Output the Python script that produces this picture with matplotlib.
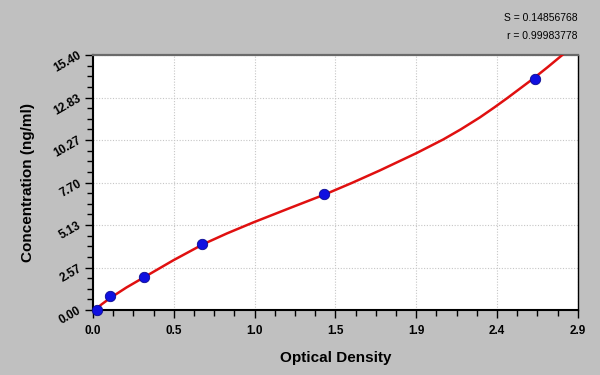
import numpy as np
import matplotlib
matplotlib.use("Agg")
import matplotlib.pyplot as plt
from matplotlib.ticker import AutoMinorLocator

plt.rcParams['font.family'] = ['Liberation Sans', 'DejaVu Sans']

# standards (optical density vs concentration)
od = [0.022, 0.102, 0.307, 0.654, 1.383, 2.643]
conc = [0.0, 0.85, 1.97, 3.99, 6.98, 13.95]

# fitted curve
curve_od = [0.012, 0.05, 0.102, 0.2, 0.311, 0.48, 0.66, 0.80, 0.959, 1.178,
            1.387, 1.55, 1.716, 1.936, 2.095, 2.20, 2.314, 2.40, 2.477,
            2.633, 2.72, 2.812]
curve_conc = [0.0, 0.33, 0.72, 1.36, 2.01, 3.0, 3.98, 4.62, 5.29, 6.16,
              6.98, 7.68, 8.43, 9.48, 10.30, 10.91, 11.63, 12.23, 12.79,
              13.97, 14.67, 15.44]

xtick_labels = ['0.0', '0.5', '1.0', '1.5', '1.9', '2.4', '2.9']
ytick_labels = ['0.00', '2.57', '5.13', '7.70', '10.27', '12.83', '15.40']
x_max = 2.9
y_max = 15.4

bg = '#c0c0c0'
fig = plt.figure(figsize=(6, 3.75), dpi=100)
fig.patch.set_facecolor(bg)
ax = fig.add_axes([0.155, 0.1733, 0.808, 0.68])
ax.set_facecolor('white')

ax.plot(curve_od, curve_conc, color='#e01010', lw=1.8, zorder=3,
        solid_joinstyle='round')
ax.plot(od, conc, 'o', ms=7.5, color='#1010e0', mec='#0a0a90', mew=0.6,
        zorder=4, clip_on=False)

ax.set_xlim(0, x_max)
ax.set_ylim(0, y_max)
ax.set_xticks(np.linspace(0, x_max, 7))
ax.set_xticklabels(xtick_labels, fontsize=8.5, fontweight='bold')
ax.set_yticks(np.linspace(0, y_max, 7))
ax.set_yticklabels(ytick_labels, fontsize=8.5, fontweight='bold',
                   rotation=30, ha='right', va='center', rotation_mode='anchor')
ax.xaxis.set_minor_locator(AutoMinorLocator(4))
ax.yaxis.set_minor_locator(AutoMinorLocator(4))
ax.tick_params(which='major', length=6, width=1, color='black', pad=3)
ax.tick_params(which='minor', length=4, width=1, color='black')
ax.tick_params(axis='x', pad=5)

ax.grid(True, which='major', color='#c6c6c6', ls=(0, (1, 1.5)), lw=0.8)
ax.set_axisbelow(True)

for s in ['left', 'bottom']:
    ax.spines[s].set_linewidth(1.5)
    ax.spines[s].set_color('black')
ax.spines['top'].set_color('#6a6a6a')
ax.spines['top'].set_linewidth(1.6)
ax.spines['right'].set_color('black')
ax.spines['right'].set_linewidth(1.0)

ax.set_xlabel('Optical Density', fontsize=11, fontweight='bold', labelpad=10)
ax.set_ylabel('Concentration (ng/ml)', fontsize=11, fontweight='bold', labelpad=12)

fig.text(0.963, 0.952, 'S = 0.14856768', ha='right', va='center', fontsize=7.5)
fig.text(0.963, 0.904, 'r = 0.99983778', ha='right', va='center', fontsize=7.5)

fig.savefig('out.png', dpi=100, facecolor=bg)
